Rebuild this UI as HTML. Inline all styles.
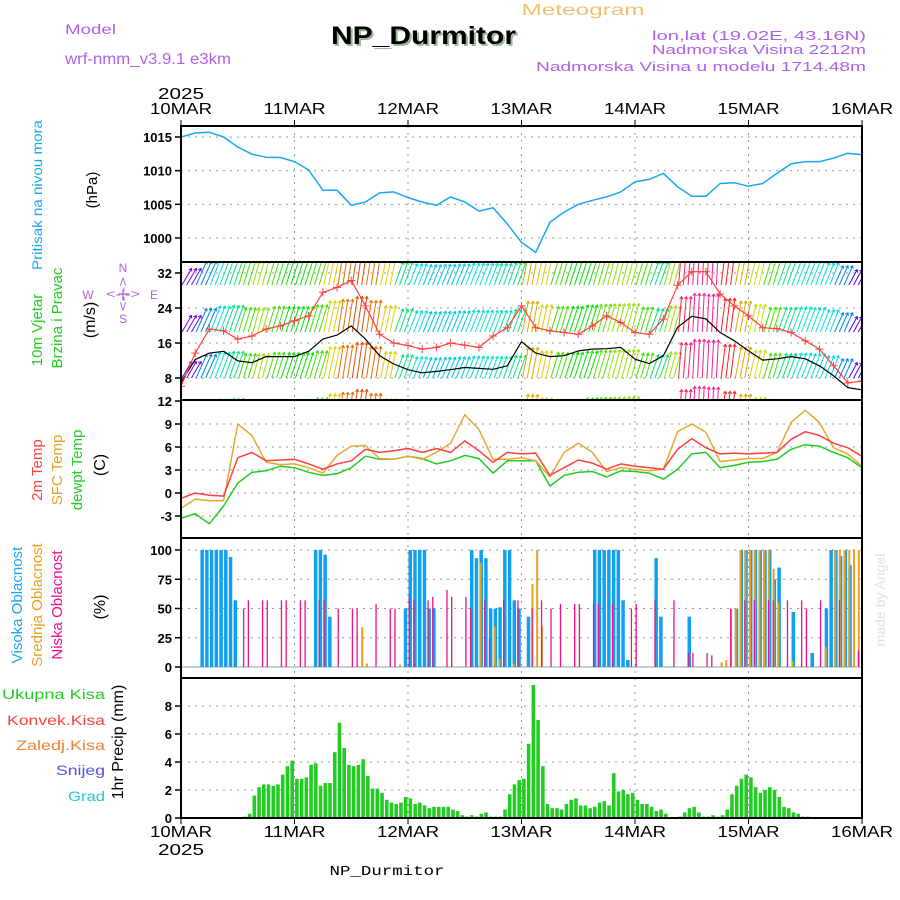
<!DOCTYPE html>
<html><head><meta charset="utf-8"><style>
html,body{margin:0;padding:0;background:#fff}
svg{display:block}
text{font-family:"Liberation Sans",sans-serif}
.tk{font-size:13px;font-weight:bold;text-anchor:end}
.dl{font-size:16px;text-anchor:middle}
.mono{font-family:"Liberation Mono",monospace}
</style></head><body>
<svg id="chart" width="900" height="900" viewBox="0 0 900 900" xmlns="http://www.w3.org/2000/svg">
<rect width="900" height="900" fill="#fff"/>
<text x="583" y="15" fill="#f0c070" font-size="16" text-anchor="middle" textLength="123" lengthAdjust="spacingAndGlyphs">Meteogram</text>
<text x="65" y="34" fill="#b060e8" font-size="14" textLength="51" lengthAdjust="spacingAndGlyphs">Model</text>
<text x="65" y="64" fill="#b060e8" font-size="16" textLength="166" lengthAdjust="spacingAndGlyphs">wrf-nmm_v3.9.1 e3km</text>
<text x="333" y="46" fill="#9ab89a" font-family="Liberation Serif" font-size="25" font-weight="bold" textLength="185" lengthAdjust="spacingAndGlyphs">NP_Durmitor</text>
<text x="331" y="44" fill="#000" font-family="Liberation Serif" font-size="25" font-weight="bold" textLength="185" lengthAdjust="spacingAndGlyphs">NP_Durmitor</text>
<text x="866" y="40" fill="#b060e8" font-size="13" text-anchor="end" textLength="214" lengthAdjust="spacingAndGlyphs">lon,lat (19.02E, 43.16N)</text>
<text x="866" y="54" fill="#b060e8" font-size="13" text-anchor="end" textLength="214" lengthAdjust="spacingAndGlyphs">Nadmorska Visina 2212m</text>
<text x="866" y="71" fill="#b060e8" font-size="13" text-anchor="end" textLength="330" lengthAdjust="spacingAndGlyphs">Nadmorska Visina u modelu 1714.48m</text>
<text x="181" y="99" class="dl" textLength="46" lengthAdjust="spacingAndGlyphs">2025</text>
<text x="181" y="855" class="dl" textLength="46" lengthAdjust="spacingAndGlyphs">2025</text>
<text x="387" y="875" class="mono" font-size="14" text-anchor="middle" textLength="115" lengthAdjust="spacingAndGlyphs">NP_Durmitor</text>
<text transform="translate(885,600) rotate(-90)" fill="#dde3dd" font-size="14" font-family="Liberation Serif" text-anchor="middle">made by Angel</text>

<text transform="translate(42,195) rotate(-90)" fill="#1aa6f0" font-size="14" text-anchor="middle" textLength="150" lengthAdjust="spacingAndGlyphs">Pritisak na nivou mora</text>
<text transform="translate(97,190) rotate(-90)" fill="#000" font-size="15" text-anchor="middle">(hPa)</text>
<text transform="translate(42,330) rotate(-90)" fill="#22cc22" font-size="15" text-anchor="middle">10m Vjetar</text>
<text transform="translate(62,318) rotate(-90)" fill="#22cc22" font-size="15" text-anchor="middle">Brzina i Pravac</text>
<text transform="translate(95,320) rotate(-90)" fill="#000" font-size="16" text-anchor="middle">(m/s)</text>
<g fill="#b060e8" font-size="12" text-anchor="middle">
<text x="123" y="272">N</text><text x="123" y="323">S</text><text x="88" y="299">W</text><text x="154" y="299">E</text>
<text x="123" y="298" textLength="34" lengthAdjust="spacingAndGlyphs">&lt;-|-&gt;</text>
<text transform="translate(127,294) rotate(-90)" textLength="34" lengthAdjust="spacingAndGlyphs">&lt;-|-&gt;</text>
</g>
<text transform="translate(42,470) rotate(-90)" fill="#ff4040" font-size="15" text-anchor="middle">2m Temp</text>
<text transform="translate(62,470) rotate(-90)" fill="#e8a020" font-size="15" text-anchor="middle">SFC Temp</text>
<text transform="translate(82,470) rotate(-90)" fill="#22cc22" font-size="15" text-anchor="middle">dewpt Temp</text>
<text transform="translate(105,465) rotate(-90)" fill="#000" font-size="16" text-anchor="middle">(C)</text>
<text transform="translate(22,605) rotate(-90)" fill="#1aa6f0" font-size="15" text-anchor="middle">Visoka Oblacnost</text>
<text transform="translate(42,605) rotate(-90)" fill="#e8a020" font-size="15" text-anchor="middle">Srednja Oblacnost</text>
<text transform="translate(62,605) rotate(-90)" fill="#ee1188" font-size="15" text-anchor="middle">Niska Oblacnost</text>
<text transform="translate(105,607) rotate(-90)" fill="#000" font-size="16" text-anchor="middle">(%)</text>
<g font-size="14" text-anchor="end">
<text x="105" y="699" fill="#22cc22" textLength="103" lengthAdjust="spacingAndGlyphs">Ukupna  Kisa</text>
<text x="105" y="725" fill="#ff4040" textLength="98" lengthAdjust="spacingAndGlyphs">Konvek.Kisa</text>
<text x="105" y="750" fill="#f08030" textLength="89" lengthAdjust="spacingAndGlyphs">Zaledj.Kisa</text>
<text x="105" y="775" fill="#5050ee" textLength="49" lengthAdjust="spacingAndGlyphs">Snijeg</text>
<text x="105" y="801" fill="#22cccc" textLength="37" lengthAdjust="spacingAndGlyphs">Grad</text>
</g>
<text transform="translate(123,742) rotate(-90)" fill="#000" font-size="16" text-anchor="middle">1hr Precip (mm)</text>
<g id="plots"></g>
</svg>
<script>
// ---- data (hourly index from 10MAR 00UTC) ----
const dayLabels = ["10MAR","11MAR","12MAR","13MAR","14MAR","15MAR","16MAR"];
const pressTicks = [1000,1005,1010,1015];
const windTicks = [8,16,24,32];
const tempTicks = [-3,0,3,6,9,12];
const cloudTicks = [0,25,50,75,100];
const precipTicks = [0,2,4,6,8];
// 3-hourly series (49 values)
const pressure = [1015.0,1015.6,1015.7,1015.0,1013.5,1012.45,1012.0,1011.95,1011.35,1010.1,1007.1,1007.1,1004.85,1005.35,1006.7,1006.85,1006.0,1005.35,1004.85,1006.1,1005.35,1004.0,1004.5,1002.1,999.35,997.85,1002.35,1003.85,1005.0,1005.6,1006.1,1006.85,1008.35,1008.7,1009.6,1007.6,1006.2,1006.2,1008.1,1008.2,1007.7,1008.1,1009.6,1011.0,1011.35,1011.35,1011.85,1012.6,1012.35];
const windSpeed = [7.0,12.2,13.7,14.1,11.9,11.5,12.9,12.9,12.9,14.1,16.9,17.8,19.9,16.9,13.1,11.2,9.9,9.2,9.5,9.9,10.4,10.2,10.0,10.8,16.3,13.7,12.9,13.1,14.2,14.6,14.7,15.0,12.3,11.3,13.1,19.6,22.1,21.5,18.4,16.5,14.2,12.1,12.4,12.9,12.4,10.8,8.5,5.8,5.3];
const windGust = [6.1,13.7,19.2,18.8,16.9,17.6,19.2,19.9,21.1,22.2,27.6,28.7,30.3,24.5,18.0,16.0,15.4,14.6,15.0,16.0,15.5,15.0,17.6,19.5,24.5,19.5,18.8,18.4,18.0,19.9,22.2,20.7,18.4,18.0,21.5,29.2,32.3,32.3,27.2,24.5,22.2,19.5,19.3,18.4,16.5,14.6,10.8,6.9,7.3];
const windDir = [50,40,35,33,28,25,28,30,30,28,20,15,14,15,20,33,36,37,37,37,36,35,34,33,18,20,28,30,30,27,25,25,28,33,25,8,5,5,12,18,22,28,33,35,35,36,40,48,50];
const temp2m = [-0.7,0.0,-0.3,-0.4,4.6,5.3,4.2,4.3,4.4,3.8,3.1,3.8,4.2,5.7,5.3,5.5,5.8,5.3,5.8,5.3,6.8,5.5,4.0,5.3,5.1,5.2,2.3,3.3,4.3,3.9,3.1,3.8,3.5,3.3,3.1,5.7,7.1,5.9,5.1,5.2,5.1,5.2,5.3,7.0,8.0,7.5,6.5,5.9,4.8];
const tempSfc = [-2.0,-0.8,-1.0,-1.0,9.0,7.5,4.0,3.7,3.8,3.3,2.6,4.9,6.1,6.2,4.5,4.4,4.8,4.4,5.3,6.5,10.2,8.3,4.4,4.4,4.6,4.2,2.1,5.3,6.5,5.3,2.8,3.3,3.1,2.9,3.1,8.0,9.0,7.9,4.1,4.3,4.5,4.5,5.3,9.2,10.8,9.2,5.9,5.1,3.5];
const tempDew = [-3.3,-2.7,-4.0,-1.7,1.3,2.7,2.9,3.5,3.3,2.7,2.3,2.5,3.3,4.8,4.4,4.4,4.8,4.5,3.8,4.2,4.9,4.5,2.6,4.2,4.2,4.2,0.9,2.3,2.7,2.8,2.1,2.9,2.8,2.6,1.8,3.1,5.1,5.3,3.3,3.6,4.0,4.1,4.4,5.7,6.3,6.1,5.3,4.6,3.3];
// hourly precip (144 values)
const precip = [0,0,0,0,0,0,0,0,0,0,0,0,0,
0.1,0.3,1.6,2.2,2.4,2.4,2.3,2.4,3.1,3.7,
4.1,2.8,2.8,2.9,3.8,3.9,2.3,2.5,2.5,4.7,
6.8,5.0,3.8,3.7,3.8,4.2,3.0,2.1,2.1,1.8,
1.3,1.1,1.0,1.1,1.5,1.4,1.0,1.1,0.9,0.7,
0.8,0.8,0.8,0.8,0.6,0.5,0.2,0.1,0.2,0.1,
0.3,0.4,0.1,0.1,0.1,0.6,1.7,2.4,2.7,2.8,
5.3,9.5,7.0,3.7,1.0,0.7,0.7,0.6,1.0,1.3,
1.4,0.9,0.9,0.7,0.8,1.1,1.2,0.9,3.2,1.9,
2.0,1.7,1.8,1.3,1.0,1.0,0.8,0.5,0.6,0.3,
0,0,0.1,0.4,0.7,0.8,0.4,0.1,0.1,0.2,
0.1,0.2,0.6,1.7,2.3,2.8,3.1,2.9,2.2,1.8,
2.0,2.2,2.0,1.5,0.8,0.7,0.4,0.3,0.1,0.1,
0,0,0,0,0,0,0,0,0,0,0];
// cloud cover: [hour, percent]
const cloudHigh = [[4,100],[5,100],[6,100],[7,100],[8,100],[9,100],[10,94],[11,57],[28,100],[29,100],[30,96],[31,43],[47,50],[48,100],[49,100],[50,100],[51,100],[52,50],[53,50],[61,100],[62,93],[63,100],[64,93],[65,50],[66,50],[67,51],[68,100],[69,100],[70,57],[71,50],[73,43],[87,100],[88,100],[89,100],[90,100],[91,100],[92,100],[93,57],[94,6],[100,93],[101,43],[107,43],[117,50],[118,100],[119,100],[120,100],[121,100],[122,100],[123,100],[124,100],[125,75],[126,85],[129,47],[133,12],[136,50],[137,100],[138,100],[139,95],[140,100],[141,87]];
const cloudMid = [[38,34],[39,3],[46,2],[63,89],[66,35],[67,7],[70,3],[74,71],[75,100],[76,35],[114,4],[115,6],[116,50],[117,50],[118,100],[119,100],[120,100],[121,100],[122,100],[123,100],[124,100],[125,84],[126,55],[129,5],[136,17],[138,100],[139,100],[140,100],[141,100],[142,100],[143,100]];
const cloudLow = [[13,50],[14,57],[17,57],[18,57],[21,57],[22,57],[25,57],[26,57],[29,57],[30,57],[33,50],[36,50],[37,50],[41,54],[44,50],[45,50],[48,60],[49,57],[52,57],[53,60],[56,66],[57,60],[60,60],[61,50],[64,57],[65,24],[68,57],[71,57],[74,50],[76,57],[78,50],[80,54],[83,54],[84,54],[87,54],[88,54],[91,54],[95,50],[96,54],[100,57],[104,57],[107,12],[108,12],[111,12],[112,10],[116,50],[119,57],[121,57],[124,57],[125,57],[128,57],[131,57],[132,50],[135,57],[139,57],[143,14]];

// ---- layout ----
const NS="http://www.w3.org/2000/svg";
const X0=181,X1=862,NH=144;
const xh=h=>X0+h*(X1-X0)/NH;
const lin=(v0,y0,v1,y1)=>v=>y0+(v-v0)*(y1-y0)/(v1-v0);
const yP=lin(1015,137,1000,238);
const yW=lin(32,273,8,378);
const yT=lin(9,424,-3,516);
const yC=lin(100,550,0,667);
const yR=lin(0,818,8,706);
const panels=[[126,262],[262,400],[400,538],[538,678],[678,818]];
const root=document.getElementById('plots');
function mk(tag,attrs,parent){const e=document.createElementNS(NS,tag);for(const k in attrs)e.setAttribute(k,attrs[k]);(parent||root).appendChild(e);return e;}
const defs=mk('defs',{});
panels.forEach((p,i)=>{const c=mk('clipPath',{id:'cp'+i},defs);mk('rect',{x:X0,y:p[0],width:X1-X0,height:p[1]-p[0]},c);});

// grids
const grid=mk('g',{stroke:'#999','stroke-width':1,'stroke-dasharray':'2,5'});


for(let d=1;d<6;d++){panels.forEach(p=>mk('line',{x1:xh(d*24),x2:xh(d*24),y1:p[0],y2:p[1]},grid));}
function hgrid(ticks,f){ticks.forEach(t=>{const y=f(t);mk('line',{x1:X0,x2:X1,y1:y,y2:y},grid);});}
hgrid(pressTicks,yP);hgrid(windTicks,yW);hgrid(tempTicks.filter(t=>t<12),yT);hgrid(cloudTicks.filter(t=>t>0),yC);hgrid(precipTicks.filter(t=>t>0),yR);

function ticks(arr,f,name){const g=mk('g',{});


arr.forEach(t=>{const y=f(t);mk('line',{x1:X0-6,x2:X0,y1:y,y2:y,stroke:'#000','stroke-width':1.5},g);const tx=mk('text',{x:X0-9,y:y+5,class:'tk'},g);tx.textContent=t;});}
ticks(pressTicks,yP,'pressure-y-axis');ticks(windTicks,yW,'wind-y-axis');ticks(tempTicks,yT,'temp-y-axis');ticks(cloudTicks,yC,'cloud-y-axis');ticks(precipTicks,yR,'precip-y-axis');

// day labels
const dl=mk('g',{});


dayLabels.forEach((d,i)=>{const x=xh(i*24);
 let t=mk('text',{x:x,y:114,class:'dl',textLength:62,lengthAdjust:'spacingAndGlyphs'},dl);t.textContent=d;
 t=mk('text',{x:x,y:837,class:'dl',textLength:62,lengthAdjust:'spacingAndGlyphs'},dl);t.textContent=d;
 mk('line',{x1:x,x2:x,y1:120,y2:126,stroke:'#000'},dl);mk('line',{x1:x,x2:x,y1:818,y2:824,stroke:'#000'},dl);});

const x3=i=>xh(i*3);
function path(arr,f,color,w,clip,name){const d=arr.map((v,i)=>(i?'L':'M')+x3(i).toFixed(1)+','+f(v).toFixed(1)).join('');
 const p=mk('path',{d:d,fill:'none',stroke:color,'stroke-width':w,'clip-path':'url(#'+clip+')','stroke-linejoin':'round'});
 
 return p;}

// pressure
path(pressure,yP,'#1aa6f0',1.5,'cp0','pressure-line');

// wind arrows
function dirColor(a){const stops=[[5,330],[12,0],[15,30],[20,55],[25,80],[30,120],[35,175],[40,205],[50,270]];
 let h=stops[stops.length-1][1];for(let i=0;i<stops.length-1;i++){if(a>=stops[i][0]&&a<=stops[i+1][0]){const t=(a-stops[i][0])/(stops[i+1][0]-stops[i][0]);h=stops[i][1]+t*(((stops[i+1][1]-stops[i][1]+540)%360)-180);break;}}
 return 'hsl('+((h+360)%360)+',95%,'+(h>300||h<20?'55%':'45%')+')';}
const wg=mk('g',{'clip-path':'url(#cp1)','stroke-width':1,fill:'none'});


const bases=[285,332,378,425];
for(let h=0;h<NH;h++){const k=Math.floor(h/3);const a=windDir[k]*0.6*Math.PI/180;const L=1.3*windSpeed[k]+10;const col=dirColor(windDir[k]);
 bases.forEach(b=>{const x=xh(h)+1,tx=x+L*Math.sin(a),ty=b-L*Math.cos(a);
  const ln=mk('path',{d:`M${x},${b}L${tx},${ty}M${tx-3*Math.sin(a+0.6)},${ty+3*Math.cos(a+0.6)}L${tx},${ty}L${tx-3*Math.sin(a-0.6)},${ty+3*Math.cos(a-0.6)}`,stroke:col},wg);
  
  });}
path(windSpeed,yW,'#000',1.2,'cp1','wind-speed-line');
path(windGust,yW,'#ff4040',1.2,'cp1','wind-gust-line');
const gm=mk('g',{stroke:'#ff4040','stroke-width':1,'clip-path':'url(#cp1)'});


windGust.forEach((v,i)=>{const x=x3(i),y=yW(v);const m=mk('path',{d:`M${x-4},${y}h8M${x},${y-4}v8`},gm);
 
 });

// temperature
path(tempDew,yT,'#22cc22',1.5,'cp2','dewpoint-line');
path(tempSfc,yT,'#e8a830',1.5,'cp2','sfc-temp-line');
path(temp2m,yT,'#ff4040',1.5,'cp2','temp-2m-line');

// clouds
const cg=mk('g',{});


mk('line',{x1:X0,x2:X1,y1:yC(0),y2:yC(0),stroke:'#8aa',"stroke-width":1},cg);
function cbars(arr,col,w,name){arr.forEach(([h,v])=>{const y=yC(v);const r=mk('rect',{x:xh(h)+0.5,y:y,width:w,height:yC(0)-y,fill:col},cg);
 
 });}
cbars(cloudHigh,'#10a0f0',3.5,'cloud-high-bar');
cbars(cloudMid,'#e8a020',2,'cloud-mid-bar');
cbars(cloudLow,'#ee1188',1.3,'cloud-low-bar');

// precip
const pg=mk('g',{});


precip.forEach((v,h)=>{if(v<=0)return;const y=yR(v);const r=mk('rect',{x:xh(h)+0.6,y:y,width:3.6,height:818-y,fill:'#22cc22'},pg);
 
 });

// borders
const bg=mk('g',{fill:'none',stroke:'#000','stroke-width':2});


panels.forEach(p=>mk('rect',{x:X0,y:p[0],width:X1-X0,height:p[1]-p[0]},bg));
</script>
</body></html>
